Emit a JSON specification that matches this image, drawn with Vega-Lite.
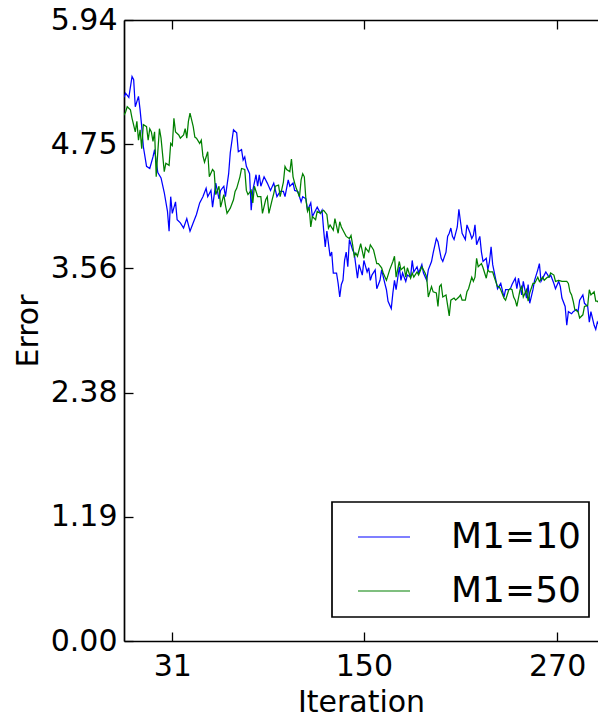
{
"$schema":"https://vega.github.io/schema/vega-lite/v6.json",
"autosize":{"type":"none"},
"padding":{"left":124,"top":20,"right":0,"bottom":76},
"width":474,"height":621,
"background":"white",
"config":{"font":"DejaVu Sans","view":{"stroke":null},
"axis":{"grid":false,"domainColor":"black","domainWidth":1.7,"tickColor":"black","tickWidth":1.3,"tickSize":-9,"labelFontSize":30,"labelColor":"black","labelFont":"DejaVu Sans","titleFont":"DejaVu Sans","titleFontSize":30,"titleFontWeight":"normal","titleColor":"black"}},
"data":{"values":[
{"i":1,"e":5.20,"s":"M1=10"},{"i":2,"e":5.24,"s":"M1=10"},{"i":4,"e":5.20,"s":"M1=10"},{"i":6,"e":5.40,"s":"M1=10"},{"i":7,"e":5.37,"s":"M1=10"},{"i":8,"e":5.11,"s":"M1=10"},{"i":10,"e":5.21,"s":"M1=10"},{"i":11,"e":5.08,"s":"M1=10"},{"i":12,"e":4.92,"s":"M1=10"},{"i":13,"e":4.73,"s":"M1=10"},{"i":15,"e":4.54,"s":"M1=10"},{"i":17,"e":4.52,"s":"M1=10"},{"i":19,"e":4.63,"s":"M1=10"},{"i":20,"e":4.70,"s":"M1=10"},{"i":22,"e":4.48,"s":"M1=10"},{"i":24,"e":4.43,"s":"M1=10"},{"i":26,"e":4.29,"s":"M1=10"},{"i":28,"e":4.11,"s":"M1=10"},{"i":29,"e":3.92,"s":"M1=10"},{"i":30,"e":4.25,"s":"M1=10"},{"i":31,"e":4.09,"s":"M1=10"},{"i":33,"e":4.20,"s":"M1=10"},{"i":34,"e":4.03,"s":"M1=10"},{"i":36,"e":4.00,"s":"M1=10"},{"i":38,"e":3.95,"s":"M1=10"},{"i":40,"e":4.04,"s":"M1=10"},{"i":42,"e":3.92,"s":"M1=10"},{"i":44,"e":4.00,"s":"M1=10"},{"i":46,"e":4.08,"s":"M1=10"},{"i":48,"e":4.19,"s":"M1=10"},{"i":50,"e":4.25,"s":"M1=10"},{"i":52,"e":4.33,"s":"M1=10"},{"i":53,"e":4.25,"s":"M1=10"},{"i":55,"e":4.31,"s":"M1=10"},{"i":56,"e":4.15,"s":"M1=10"},{"i":58,"e":4.38,"s":"M1=10"},{"i":60,"e":4.23,"s":"M1=10"},{"i":61,"e":4.31,"s":"M1=10"},{"i":63,"e":4.35,"s":"M1=10"},{"i":64,"e":4.25,"s":"M1=10"},{"i":66,"e":4.47,"s":"M1=10"},{"i":67,"e":4.67,"s":"M1=10"},{"i":69,"e":4.89,"s":"M1=10"},{"i":71,"e":4.86,"s":"M1=10"},{"i":72,"e":4.68,"s":"M1=10"},{"i":74,"e":4.70,"s":"M1=10"},{"i":75,"e":4.60,"s":"M1=10"},{"i":76,"e":4.63,"s":"M1=10"},{"i":77,"e":4.54,"s":"M1=10"},{"i":79,"e":4.47,"s":"M1=10"},{"i":80,"e":4.12,"s":"M1=10"},{"i":81,"e":4.31,"s":"M1=10"},{"i":83,"e":4.46,"s":"M1=10"},{"i":84,"e":4.35,"s":"M1=10"},{"i":85,"e":4.46,"s":"M1=10"},{"i":86,"e":4.35,"s":"M1=10"},{"i":88,"e":4.44,"s":"M1=10"},{"i":90,"e":4.38,"s":"M1=10"},{"i":92,"e":4.31,"s":"M1=10"},{"i":94,"e":4.38,"s":"M1=10"},{"i":96,"e":4.25,"s":"M1=10"},{"i":98,"e":4.30,"s":"M1=10"},{"i":100,"e":4.30,"s":"M1=10"},{"i":101,"e":4.25,"s":"M1=10"},{"i":103,"e":4.41,"s":"M1=10"},{"i":104,"e":4.35,"s":"M1=10"},{"i":106,"e":4.38,"s":"M1=10"},{"i":107,"e":4.31,"s":"M1=10"},{"i":109,"e":4.30,"s":"M1=10"},{"i":111,"e":4.20,"s":"M1=10"},{"i":112,"e":4.25,"s":"M1=10"},{"i":114,"e":4.23,"s":"M1=10"},{"i":115,"e":4.12,"s":"M1=10"},{"i":117,"e":4.19,"s":"M1=10"},{"i":118,"e":4.06,"s":"M1=10"},{"i":120,"e":4.12,"s":"M1=10"},{"i":121,"e":4.15,"s":"M1=10"},{"i":123,"e":4.09,"s":"M1=10"},{"i":124,"e":4.12,"s":"M1=10"},{"i":125,"e":3.93,"s":"M1=10"},{"i":126,"e":3.77,"s":"M1=10"},{"i":127,"e":3.92,"s":"M1=10"},{"i":129,"e":3.68,"s":"M1=10"},{"i":130,"e":3.72,"s":"M1=10"},{"i":131,"e":3.52,"s":"M1=10"},{"i":133,"e":3.52,"s":"M1=10"},{"i":134,"e":3.42,"s":"M1=10"},{"i":135,"e":3.29,"s":"M1=10"},{"i":136,"e":3.41,"s":"M1=10"},{"i":137,"e":3.45,"s":"M1=10"},{"i":138,"e":3.64,"s":"M1=10"},{"i":139,"e":3.72,"s":"M1=10"},{"i":140,"e":3.58,"s":"M1=10"},{"i":141,"e":3.84,"s":"M1=10"},{"i":143,"e":3.74,"s":"M1=10"},{"i":144,"e":3.71,"s":"M1=10"},{"i":146,"e":3.47,"s":"M1=10"},{"i":147,"e":3.60,"s":"M1=10"},{"i":149,"e":3.50,"s":"M1=10"},{"i":150,"e":3.64,"s":"M1=10"},{"i":152,"e":3.53,"s":"M1=10"},{"i":153,"e":3.57,"s":"M1=10"},{"i":154,"e":3.45,"s":"M1=10"},{"i":155,"e":3.50,"s":"M1=10"},{"i":157,"e":3.55,"s":"M1=10"},{"i":158,"e":3.37,"s":"M1=10"},{"i":160,"e":3.45,"s":"M1=10"},{"i":161,"e":3.55,"s":"M1=10"},{"i":163,"e":3.42,"s":"M1=10"},{"i":164,"e":3.36,"s":"M1=10"},{"i":165,"e":3.25,"s":"M1=10"},{"i":167,"e":3.18,"s":"M1=10"},{"i":168,"e":3.33,"s":"M1=10"},{"i":169,"e":3.45,"s":"M1=10"},{"i":170,"e":3.36,"s":"M1=10"},{"i":172,"e":3.58,"s":"M1=10"},{"i":173,"e":3.45,"s":"M1=10"},{"i":174,"e":3.52,"s":"M1=10"},{"i":176,"e":3.44,"s":"M1=10"},{"i":177,"e":3.50,"s":"M1=10"},{"i":179,"e":3.48,"s":"M1=10"},{"i":180,"e":3.64,"s":"M1=10"},{"i":181,"e":3.53,"s":"M1=10"},{"i":183,"e":3.58,"s":"M1=10"},{"i":184,"e":3.52,"s":"M1=10"},{"i":186,"e":3.60,"s":"M1=10"},{"i":187,"e":3.52,"s":"M1=10"},{"i":189,"e":3.45,"s":"M1=10"},{"i":190,"e":3.55,"s":"M1=10"},{"i":192,"e":3.63,"s":"M1=10"},{"i":193,"e":3.71,"s":"M1=10"},{"i":195,"e":3.85,"s":"M1=10"},{"i":196,"e":3.82,"s":"M1=10"},{"i":198,"e":3.66,"s":"M1=10"},{"i":199,"e":3.63,"s":"M1=10"},{"i":201,"e":3.72,"s":"M1=10"},{"i":202,"e":3.87,"s":"M1=10"},{"i":203,"e":3.90,"s":"M1=10"},{"i":204,"e":3.95,"s":"M1=10"},{"i":205,"e":3.87,"s":"M1=10"},{"i":206,"e":3.84,"s":"M1=10"},{"i":208,"e":3.96,"s":"M1=10"},{"i":209,"e":4.13,"s":"M1=10"},{"i":210,"e":4.01,"s":"M1=10"},{"i":211,"e":3.90,"s":"M1=10"},{"i":213,"e":3.84,"s":"M1=10"},{"i":214,"e":3.98,"s":"M1=10"},{"i":216,"e":3.90,"s":"M1=10"},{"i":217,"e":3.85,"s":"M1=10"},{"i":218,"e":3.88,"s":"M1=10"},{"i":219,"e":3.98,"s":"M1=10"},{"i":220,"e":3.79,"s":"M1=10"},{"i":222,"e":3.87,"s":"M1=10"},{"i":223,"e":3.72,"s":"M1=10"},{"i":224,"e":3.63,"s":"M1=10"},{"i":226,"e":3.66,"s":"M1=10"},{"i":227,"e":3.55,"s":"M1=10"},{"i":228,"e":3.63,"s":"M1=10"},{"i":229,"e":3.77,"s":"M1=10"},{"i":230,"e":3.60,"s":"M1=10"},{"i":232,"e":3.45,"s":"M1=10"},{"i":233,"e":3.37,"s":"M1=10"},{"i":235,"e":3.42,"s":"M1=10"},{"i":237,"e":3.29,"s":"M1=10"},{"i":238,"e":3.36,"s":"M1=10"},{"i":240,"e":3.36,"s":"M1=10"},{"i":241,"e":3.37,"s":"M1=10"},{"i":242,"e":3.41,"s":"M1=10"},{"i":244,"e":3.47,"s":"M1=10"},{"i":245,"e":3.37,"s":"M1=10"},{"i":246,"e":3.47,"s":"M1=10"},{"i":248,"e":3.31,"s":"M1=10"},{"i":249,"e":3.44,"s":"M1=10"},{"i":251,"e":3.28,"s":"M1=10"},{"i":252,"e":3.41,"s":"M1=10"},{"i":253,"e":3.23,"s":"M1=10"},{"i":255,"e":3.36,"s":"M1=10"},{"i":256,"e":3.45,"s":"M1=10"},{"i":258,"e":3.55,"s":"M1=10"},{"i":259,"e":3.61,"s":"M1=10"},{"i":260,"e":3.44,"s":"M1=10"},{"i":262,"e":3.50,"s":"M1=10"},{"i":263,"e":3.53,"s":"M1=10"},{"i":265,"e":3.48,"s":"M1=10"},{"i":266,"e":3.50,"s":"M1=10"},{"i":268,"e":3.42,"s":"M1=10"},{"i":269,"e":3.37,"s":"M1=10"},{"i":271,"e":3.44,"s":"M1=10"},{"i":272,"e":3.39,"s":"M1=10"},{"i":273,"e":3.28,"s":"M1=10"},{"i":275,"e":3.20,"s":"M1=10"},{"i":276,"e":3.02,"s":"M1=10"},{"i":277,"e":3.15,"s":"M1=10"},{"i":279,"e":3.13,"s":"M1=10"},{"i":280,"e":3.15,"s":"M1=10"},{"i":282,"e":3.17,"s":"M1=10"},{"i":283,"e":3.15,"s":"M1=10"},{"i":284,"e":3.26,"s":"M1=10"},{"i":286,"e":3.31,"s":"M1=10"},{"i":287,"e":3.23,"s":"M1=10"},{"i":289,"e":3.20,"s":"M1=10"},{"i":290,"e":3.05,"s":"M1=10"},{"i":291,"e":3.15,"s":"M1=10"},{"i":293,"e":3.02,"s":"M1=10"},{"i":294,"e":2.98,"s":"M1=10"},{"i":295,"e":3.05,"s":"M1=10"},{"i":297,"e":3.00,"s":"M1=10"},
{"i":1,"e":5.03,"s":"M1=50"},{"i":2,"e":5.06,"s":"M1=50"},{"i":3,"e":5.11,"s":"M1=50"},{"i":5,"e":5.08,"s":"M1=50"},{"i":6,"e":5.00,"s":"M1=50"},{"i":8,"e":4.87,"s":"M1=50"},{"i":9,"e":4.97,"s":"M1=50"},{"i":10,"e":4.79,"s":"M1=50"},{"i":11,"e":4.89,"s":"M1=50"},{"i":12,"e":4.71,"s":"M1=50"},{"i":13,"e":4.94,"s":"M1=50"},{"i":15,"e":4.92,"s":"M1=50"},{"i":16,"e":4.79,"s":"M1=50"},{"i":17,"e":4.90,"s":"M1=50"},{"i":18,"e":4.87,"s":"M1=50"},{"i":19,"e":4.78,"s":"M1=50"},{"i":20,"e":4.87,"s":"M1=50"},{"i":21,"e":4.44,"s":"M1=50"},{"i":22,"e":4.68,"s":"M1=50"},{"i":23,"e":4.90,"s":"M1=50"},{"i":24,"e":4.81,"s":"M1=50"},{"i":26,"e":4.49,"s":"M1=50"},{"i":27,"e":4.57,"s":"M1=50"},{"i":29,"e":4.55,"s":"M1=50"},{"i":30,"e":4.76,"s":"M1=50"},{"i":31,"e":4.74,"s":"M1=50"},{"i":32,"e":5.00,"s":"M1=50"},{"i":33,"e":4.87,"s":"M1=50"},{"i":35,"e":4.84,"s":"M1=50"},{"i":36,"e":4.81,"s":"M1=50"},{"i":38,"e":4.84,"s":"M1=50"},{"i":39,"e":4.90,"s":"M1=50"},{"i":40,"e":4.81,"s":"M1=50"},{"i":41,"e":4.97,"s":"M1=50"},{"i":42,"e":5.05,"s":"M1=50"},{"i":44,"e":4.92,"s":"M1=50"},{"i":45,"e":4.82,"s":"M1=50"},{"i":46,"e":4.81,"s":"M1=50"},{"i":48,"e":4.76,"s":"M1=50"},{"i":49,"e":4.79,"s":"M1=50"},{"i":50,"e":4.64,"s":"M1=50"},{"i":51,"e":4.58,"s":"M1=50"},{"i":53,"e":4.68,"s":"M1=50"},{"i":54,"e":4.44,"s":"M1=50"},{"i":56,"e":4.51,"s":"M1=50"},{"i":57,"e":4.49,"s":"M1=50"},{"i":58,"e":4.27,"s":"M1=50"},{"i":60,"e":4.35,"s":"M1=50"},{"i":61,"e":4.15,"s":"M1=50"},{"i":63,"e":4.27,"s":"M1=50"},{"i":64,"e":4.17,"s":"M1=50"},{"i":65,"e":4.09,"s":"M1=50"},{"i":67,"e":4.14,"s":"M1=50"},{"i":69,"e":4.22,"s":"M1=50"},{"i":70,"e":4.30,"s":"M1=50"},{"i":71,"e":4.33,"s":"M1=50"},{"i":73,"e":4.44,"s":"M1=50"},{"i":74,"e":4.52,"s":"M1=50"},{"i":76,"e":4.51,"s":"M1=50"},{"i":77,"e":4.31,"s":"M1=50"},{"i":78,"e":4.27,"s":"M1=50"},{"i":80,"e":4.31,"s":"M1=50"},{"i":81,"e":4.19,"s":"M1=50"},{"i":82,"e":4.35,"s":"M1=50"},{"i":84,"e":4.25,"s":"M1=50"},{"i":86,"e":4.25,"s":"M1=50"},{"i":87,"e":4.09,"s":"M1=50"},{"i":89,"e":4.22,"s":"M1=50"},{"i":90,"e":4.25,"s":"M1=50"},{"i":91,"e":4.09,"s":"M1=50"},{"i":93,"e":4.22,"s":"M1=50"},{"i":94,"e":4.28,"s":"M1=50"},{"i":95,"e":4.35,"s":"M1=50"},{"i":97,"e":4.36,"s":"M1=50"},{"i":98,"e":4.25,"s":"M1=50"},{"i":100,"e":4.39,"s":"M1=50"},{"i":101,"e":4.54,"s":"M1=50"},{"i":102,"e":4.51,"s":"M1=50"},{"i":104,"e":4.49,"s":"M1=50"},{"i":105,"e":4.61,"s":"M1=50"},{"i":106,"e":4.44,"s":"M1=50"},{"i":107,"e":4.38,"s":"M1=50"},{"i":108,"e":4.33,"s":"M1=50"},{"i":110,"e":4.25,"s":"M1=50"},{"i":111,"e":4.41,"s":"M1=50"},{"i":112,"e":4.47,"s":"M1=50"},{"i":113,"e":4.44,"s":"M1=50"},{"i":114,"e":4.22,"s":"M1=50"},{"i":115,"e":4.11,"s":"M1=50"},{"i":116,"e":4.15,"s":"M1=50"},{"i":117,"e":3.96,"s":"M1=50"},{"i":118,"e":4.06,"s":"M1=50"},{"i":120,"e":4.03,"s":"M1=50"},{"i":121,"e":4.11,"s":"M1=50"},{"i":123,"e":4.09,"s":"M1=50"},{"i":124,"e":4.11,"s":"M1=50"},{"i":125,"e":4.12,"s":"M1=50"},{"i":127,"e":4.08,"s":"M1=50"},{"i":128,"e":3.95,"s":"M1=50"},{"i":129,"e":3.98,"s":"M1=50"},{"i":131,"e":3.93,"s":"M1=50"},{"i":132,"e":4.04,"s":"M1=50"},{"i":134,"e":3.90,"s":"M1=50"},{"i":135,"e":4.01,"s":"M1=50"},{"i":136,"e":3.96,"s":"M1=50"},{"i":138,"e":3.90,"s":"M1=50"},{"i":139,"e":3.87,"s":"M1=50"},{"i":141,"e":3.85,"s":"M1=50"},{"i":142,"e":3.88,"s":"M1=50"},{"i":143,"e":3.79,"s":"M1=50"},{"i":144,"e":3.68,"s":"M1=50"},{"i":145,"e":3.71,"s":"M1=50"},{"i":146,"e":3.68,"s":"M1=50"},{"i":147,"e":3.74,"s":"M1=50"},{"i":148,"e":3.80,"s":"M1=50"},{"i":150,"e":3.66,"s":"M1=50"},{"i":151,"e":3.76,"s":"M1=50"},{"i":153,"e":3.72,"s":"M1=50"},{"i":154,"e":3.79,"s":"M1=50"},{"i":156,"e":3.74,"s":"M1=50"},{"i":158,"e":3.61,"s":"M1=50"},{"i":159,"e":3.61,"s":"M1=50"},{"i":161,"e":3.57,"s":"M1=50"},{"i":162,"e":3.52,"s":"M1=50"},{"i":164,"e":3.45,"s":"M1=50"},{"i":165,"e":3.50,"s":"M1=50"},{"i":166,"e":3.55,"s":"M1=50"},{"i":168,"e":3.63,"s":"M1=50"},{"i":169,"e":3.68,"s":"M1=50"},{"i":170,"e":3.48,"s":"M1=50"},{"i":172,"e":3.63,"s":"M1=50"},{"i":173,"e":3.55,"s":"M1=50"},{"i":175,"e":3.58,"s":"M1=50"},{"i":176,"e":3.48,"s":"M1=50"},{"i":177,"e":3.57,"s":"M1=50"},{"i":179,"e":3.47,"s":"M1=50"},{"i":180,"e":3.52,"s":"M1=50"},{"i":181,"e":3.48,"s":"M1=50"},{"i":183,"e":3.53,"s":"M1=50"},{"i":184,"e":3.50,"s":"M1=50"},{"i":186,"e":3.58,"s":"M1=50"},{"i":188,"e":3.52,"s":"M1=50"},{"i":189,"e":3.48,"s":"M1=50"},{"i":190,"e":3.29,"s":"M1=50"},{"i":192,"e":3.39,"s":"M1=50"},{"i":193,"e":3.34,"s":"M1=50"},{"i":195,"e":3.33,"s":"M1=50"},{"i":196,"e":3.20,"s":"M1=50"},{"i":197,"e":3.39,"s":"M1=50"},{"i":198,"e":3.41,"s":"M1=50"},{"i":199,"e":3.29,"s":"M1=50"},{"i":201,"e":3.31,"s":"M1=50"},{"i":202,"e":3.21,"s":"M1=50"},{"i":203,"e":3.11,"s":"M1=50"},{"i":204,"e":3.26,"s":"M1=50"},{"i":206,"e":3.28,"s":"M1=50"},{"i":207,"e":3.26,"s":"M1=50"},{"i":209,"e":3.29,"s":"M1=50"},{"i":210,"e":3.31,"s":"M1=50"},{"i":211,"e":3.26,"s":"M1=50"},{"i":213,"e":3.26,"s":"M1=50"},{"i":214,"e":3.34,"s":"M1=50"},{"i":215,"e":3.37,"s":"M1=50"},{"i":217,"e":3.48,"s":"M1=50"},{"i":218,"e":3.44,"s":"M1=50"},{"i":219,"e":3.48,"s":"M1=50"},{"i":220,"e":3.66,"s":"M1=50"},{"i":221,"e":3.58,"s":"M1=50"},{"i":223,"e":3.61,"s":"M1=50"},{"i":224,"e":3.57,"s":"M1=50"},{"i":226,"e":3.47,"s":"M1=50"},{"i":227,"e":3.55,"s":"M1=50"},{"i":228,"e":3.53,"s":"M1=50"},{"i":230,"e":3.53,"s":"M1=50"},{"i":231,"e":3.48,"s":"M1=50"},{"i":233,"e":3.39,"s":"M1=50"},{"i":234,"e":3.39,"s":"M1=50"},{"i":235,"e":3.36,"s":"M1=50"},{"i":237,"e":3.28,"s":"M1=50"},{"i":238,"e":3.26,"s":"M1=50"},{"i":240,"e":3.36,"s":"M1=50"},{"i":241,"e":3.37,"s":"M1=50"},{"i":242,"e":3.36,"s":"M1=50"},{"i":243,"e":3.29,"s":"M1=50"},{"i":244,"e":3.26,"s":"M1=50"},{"i":245,"e":3.20,"s":"M1=50"},{"i":247,"e":3.36,"s":"M1=50"},{"i":248,"e":3.39,"s":"M1=50"},{"i":249,"e":3.29,"s":"M1=50"},{"i":251,"e":3.36,"s":"M1=50"},{"i":252,"e":3.25,"s":"M1=50"},{"i":253,"e":3.33,"s":"M1=50"},{"i":255,"e":3.42,"s":"M1=50"},{"i":256,"e":3.42,"s":"M1=50"},{"i":258,"e":3.48,"s":"M1=50"},{"i":259,"e":3.44,"s":"M1=50"},{"i":261,"e":3.48,"s":"M1=50"},{"i":262,"e":3.45,"s":"M1=50"},{"i":264,"e":3.48,"s":"M1=50"},{"i":265,"e":3.48,"s":"M1=50"},{"i":266,"e":3.52,"s":"M1=50"},{"i":268,"e":3.50,"s":"M1=50"},{"i":269,"e":3.44,"s":"M1=50"},{"i":271,"e":3.45,"s":"M1=50"},{"i":273,"e":3.44,"s":"M1=50"},{"i":274,"e":3.44,"s":"M1=50"},{"i":276,"e":3.44,"s":"M1=50"},{"i":277,"e":3.42,"s":"M1=50"},{"i":278,"e":3.34,"s":"M1=50"},{"i":279,"e":3.31,"s":"M1=50"},{"i":280,"e":3.25,"s":"M1=50"},{"i":281,"e":3.17,"s":"M1=50"},{"i":283,"e":3.15,"s":"M1=50"},{"i":284,"e":3.09,"s":"M1=50"},{"i":286,"e":3.12,"s":"M1=50"},{"i":287,"e":3.20,"s":"M1=50"},{"i":289,"e":3.21,"s":"M1=50"},{"i":290,"e":3.36,"s":"M1=50"},{"i":291,"e":3.31,"s":"M1=50"},{"i":293,"e":3.34,"s":"M1=50"},{"i":294,"e":3.25,"s":"M1=50"},{"i":295,"e":3.25,"s":"M1=50"},{"i":297,"e":3.22,"s":"M1=50"}
]},
"layer":[
{"mark":{"type":"line","strokeWidth":1.25,"clip":true},
"encoding":{
"x":{"field":"i","type":"quantitative","scale":{"domain":[1,295.4],"nice":false,"zero":false},
"axis":{"orient":"bottom","values":[31,150,270],"format":"d","labelPadding":19,"title":"Iteration","titlePadding":6}},
"y":{"field":"e","type":"quantitative","scale":{"domain":[0,5.94],"nice":false,"zero":false},
"axis":{"values":[0,1.188,2.376,3.564,4.752,5.94],"format":".2f","labelPadding":16,"title":"Error","titlePadding":7}},
"color":{"field":"s","type":"nominal","scale":{"domain":["M1=10","M1=50"],"range":["#0000ff","#008000"]},
"legend":{"title":null,"orient":"none","legendX":208,"legendY":482,"symbolType":"stroke","symbolSize":2704,"symbolStrokeWidth":1.2,"labelFontSize":36,"labelFont":"DejaVu Sans","labelColor":"black","labelOffset":40,"symbolOffset":17,"padding":8,"rowPadding":9,"strokeColor":"black","fillColor":"white","cornerRadius":0,
"encode":{"legend":{"update":{"strokeWidth":{"value":1.7}}}}}},
"detail":{"field":"s"},
"order":{"field":"i","type":"quantitative"}}},
{"mark":{"type":"point","opacity":0},
"encoding":{"x":{"field":"i","type":"quantitative","axis":{"orient":"top","values":[31,150,270],"labels":false,"title":null}}}}
]
}
